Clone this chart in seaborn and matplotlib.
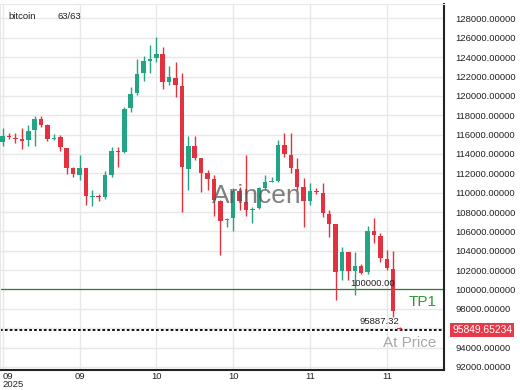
import numpy as np
import pandas as pd
import matplotlib
matplotlib.use("Agg")
import matplotlib.pyplot as plt
import seaborn as sns

# daily candles
opens = [115250, 115900, 115600, 115500, 115430, 116460, 117570, 116980, 115530, 115710,
         114570, 112500, 111810, 112500, 109600, 109680, 109570, 111810, 114290, 114160,
         118760, 120310, 122320, 123620, 123870, 124280, 121390, 121860, 121000, 112400,
         114810, 113540, 111990, 111370, 109160, 107160, 107340, 110190, 109060, 108200,
         108370, 110440, 111060, 111230, 114910, 113880, 112400, 110540, 109130, 110160,
         109920, 107750, 106720, 101900, 103890, 101900, 102450, 101760, 106060, 105510,
         103100, 102070, 96000]
highs = [116670, 116200, 116150, 116650, 116980, 117900, 117900, 117050, 116020, 115950,
         114600, 112670, 113880, 112520, 110260, 109850, 112260, 114740, 114670, 118810,
         120930, 123760, 124100, 125240, 126100, 125070, 123070, 123520, 122320, 115840,
         115840, 113600, 112330, 111810, 109200, 107340, 110440, 110600, 113880, 108540,
         110600, 111810, 111640, 115430, 116120, 116120, 113540, 111530, 110950, 110440,
         110950, 108200, 106750, 104400, 103900, 103890, 102620, 106540, 107340, 105790,
         104070, 104000, 96100]
lows = [114840, 115500, 115100, 114460, 114840, 114840, 116800, 115360, 115420, 114290,
        111920, 111570, 111300, 108710, 108610, 109150, 109300, 111640, 112670, 114120,
        118350, 120080, 121550, 122380, 123520, 120660, 121110, 119840, 108020, 110260,
        113360, 110090, 110260, 107580, 103550, 106470, 106060, 108200, 107580, 106820,
        108270, 110340, 111060, 111120, 113640, 112050, 110260, 106470, 108680, 109850,
        107500, 105440, 98960, 100970, 100970, 99420, 101590, 101590, 104760, 102860,
        101990, 97180, 95800]
closes = [115840, 115800, 115500, 115350, 116360, 117570, 116980, 115530, 115660, 114740,
          112500, 111920, 112500, 109640, 109700, 109580, 111810, 114290, 114160, 118630,
          120180, 122210, 123590, 123760, 124280, 121390, 121900, 121110, 112610, 114810,
          113540, 112050, 111400, 109230, 107090, 107300, 110190, 109130, 108200, 108300,
          110440, 111060, 111190, 114910, 113980, 112500, 110600, 109130, 110160, 110060,
          107850, 106750, 101820, 103890, 101900, 102450, 101720, 106060, 105610, 103200,
          102170, 97800, 95887.32]

tick_pos = [0, 12, 24, 36, 48, 60]
tick_labels = ["09\n2025", "09", "10", "10", "11", "11"]
y_ticks = list(range(92000, 128001, 2000))

tp1 = 100000.00
at_price = 95849.65234
last_price = 95887.32

GREEN = "#22a584"
RED = "#e2323f"

df = pd.DataFrame({"open": opens, "high": highs, "low": lows, "close": closes})
df["i"] = np.arange(len(df))
df["up"] = df["close"] >= df["open"]

sns.set_style("white")
plt.rcParams["font.family"] = ["Liberation Sans", "DejaVu Sans"]

fig = plt.figure(figsize=(5.2, 3.9), dpi=100)
ax = fig.add_axes([0.0, 0.051, 0.854, 0.939])

colors = np.where(df["up"], GREEN, RED)
ax.vlines(df["i"], df["low"], df["high"], colors=colors, lw=1.0, zorder=3)
body_bottom = np.minimum(df["open"], df["close"])
body_h = np.maximum(np.abs(df["close"] - df["open"]), 60)
ax.bar(df["i"], body_h, bottom=body_bottom, width=0.7, color=colors, zorder=3, linewidth=0)

ax.set_xlim(-0.42, 68.95)
ax.set_ylim(91670, 129500)

ax.set_yticks(y_ticks)
ax.set_yticklabels(["" if v == 96000 else f"{v:.5f}" for v in y_ticks])
ax.yaxis.tick_right()
ax.tick_params(axis="y", length=0, pad=8, labelsize=6.8, labelcolor="#222222")

ax.set_xticks(tick_pos)
ax.set_xticklabels(tick_labels)
ax.tick_params(axis="x", length=0, pad=1.5, labelsize=6.8, labelcolor="#222222")
ax.get_xticklabels()[0].set_horizontalalignment("left")
for lab in ax.get_xticklabels():
    lab.set_linespacing(0.8)

ax.grid(True, color="#e8e8e8", lw=1.0, zorder=0)
for s in ["top", "left"]:
    ax.spines[s].set_color("#e8e8e8")
for s in ["right", "bottom"]:
    ax.spines[s].set_color("#222222")
    ax.spines[s].set_linewidth(1.5)

# levels
ax.axhline(tp1, color="#2e7d32", lw=0.9, zorder=2)
ax.axhline(at_price, color="black", lw=1.3, ls=(0, (1.5, 1.2)), zorder=2)

ax.text(61.3, tp1 + 180, f"{tp1:.2f}", ha="right", va="bottom", fontsize=6.8, color="#222222", zorder=4)
ax.text(62.0, last_price + 350, f"{last_price:.2f}", ha="right", va="bottom", fontsize=6.8, color="#222222", zorder=4)
ax.text(0.983, tp1 - 1300, "TP1", transform=ax.get_yaxis_transform(), ha="right", va="center",
        fontsize=11, color="#2f9a2f")
ax.text(0.983, at_price - 1350, "At Price", transform=ax.get_yaxis_transform(), ha="right", va="center",
        fontsize=11, color="#a8a8a8")

# price tag on the right axis
ax.text(1.018, at_price, f"{at_price:.5f}", transform=ax.get_yaxis_transform(), ha="left", va="center",
        fontsize=7.4, color="white", clip_on=False,
        bbox=dict(boxstyle="square,pad=0.2", facecolor="#e8394a", edgecolor="none"))

# header + watermark
ax.text(0.02, 0.978, "bitcoin", transform=ax.transAxes, ha="left", va="top", fontsize=6.8, color="#222222")
ax.text(0.13, 0.978, "63/63", transform=ax.transAxes, ha="left", va="top", fontsize=6.8, color="#222222")
ax.text(0.578, 0.475, "Arincen", transform=ax.transAxes, ha="center", va="center", fontsize=19,
        color="#555555", alpha=0.75, zorder=5)

fig.savefig("out.png", dpi=100)
